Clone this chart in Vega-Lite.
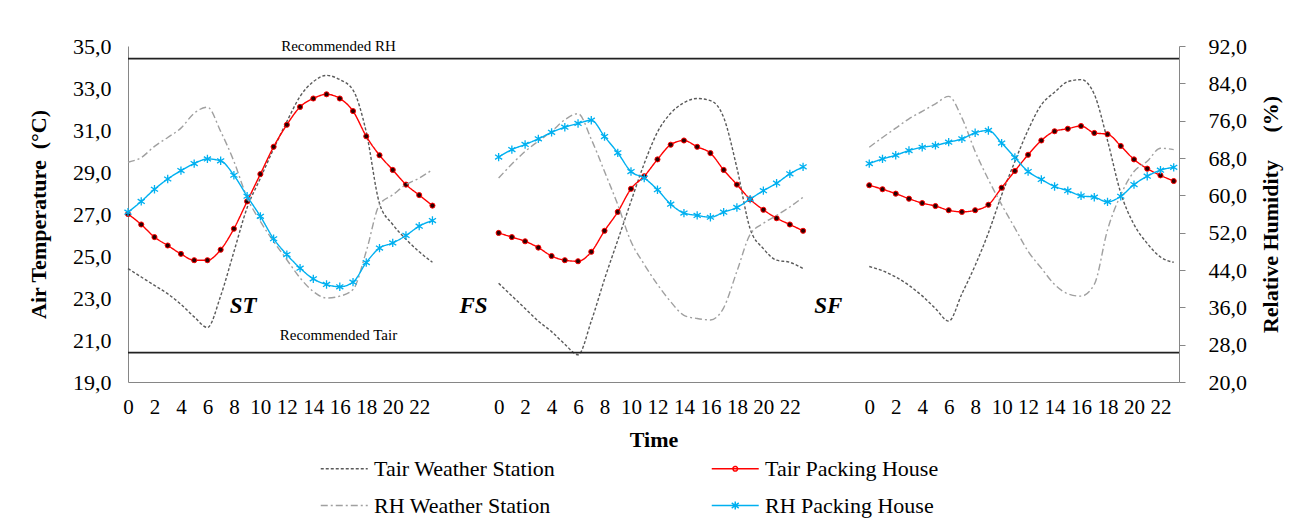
{
  "$schema": "https://vega.github.io/schema/vega-lite/v6.json",
  "width": 1051,
  "height": 336,
  "autosize": "none",
  "padding": {"left": 128, "top": 46, "right": 117, "bottom": 144},
  "config": {
    "font": "Liberation Serif",
    "view": {"stroke": null},
    "style": {"guide-label": {"font": "Liberation Serif"}, "guide-title": {"font": "Liberation Serif"}},
    "axis": {"labelColor": "black", "titleColor": "black", "labelFont": "Liberation Serif", "titleFont": "Liberation Serif"},
    "legend": {"labelFont": "Liberation Serif", "labelFontSize": 22, "labelColor": "black", "labelLimit": 400}
  },
  "data": {
    "values": [
      {"panel": "ST", "hour": 0, "Tair Weather Station": 24.4, "Tair Packing House": 27.0, "RH Weather Station": 67.1, "RH Packing House": 56.4},
      {"panel": "ST", "hour": 1, "Tair Weather Station": 24.0, "Tair Packing House": 26.5, "RH Weather Station": 68.1, "RH Packing House": 58.7},
      {"panel": "ST", "hour": 2, "Tair Weather Station": 23.6, "Tair Packing House": 25.9, "RH Weather Station": 70.5, "RH Packing House": 61.3},
      {"panel": "ST", "hour": 3, "Tair Weather Station": 23.2, "Tair Packing House": 25.5, "RH Weather Station": 72.4, "RH Packing House": 63.5},
      {"panel": "ST", "hour": 4, "Tair Weather Station": 22.7, "Tair Packing House": 25.1, "RH Weather Station": 74.4, "RH Packing House": 65.3},
      {"panel": "ST", "hour": 5, "Tair Weather Station": 22.1, "Tair Packing House": 24.8, "RH Weather Station": 77.6, "RH Packing House": 66.8},
      {"panel": "ST", "hour": 6, "Tair Weather Station": 21.6, "Tair Packing House": 24.8, "RH Weather Station": 78.9, "RH Packing House": 67.8},
      {"panel": "ST", "hour": 7, "Tair Weather Station": 23.1, "Tair Packing House": 25.3, "RH Weather Station": 73.7, "RH Packing House": 67.4},
      {"panel": "ST", "hour": 8, "Tair Weather Station": 25.2, "Tair Packing House": 26.3, "RH Weather Station": 67.3, "RH Packing House": 64.3},
      {"panel": "ST", "hour": 9, "Tair Weather Station": 27.3, "Tair Packing House": 27.6, "RH Weather Station": 59.5, "RH Packing House": 59.8},
      {"panel": "ST", "hour": 10, "Tair Weather Station": 28.7, "Tair Packing House": 28.9, "RH Weather Station": 54.4, "RH Packing House": 55.5},
      {"panel": "ST", "hour": 11, "Tair Weather Station": 30.1, "Tair Packing House": 30.2, "RH Weather Station": 50.1, "RH Packing House": 50.7},
      {"panel": "ST", "hour": 12, "Tair Weather Station": 31.4, "Tair Packing House": 31.25, "RH Weather Station": 46.2, "RH Packing House": 47.3},
      {"panel": "ST", "hour": 13, "Tair Weather Station": 32.6, "Tair Packing House": 32.1, "RH Weather Station": 42.3, "RH Packing House": 44.4},
      {"panel": "ST", "hour": 14, "Tair Weather Station": 33.3, "Tair Packing House": 32.5, "RH Weather Station": 39.4, "RH Packing House": 42.1},
      {"panel": "ST", "hour": 15, "Tair Weather Station": 33.6, "Tair Packing House": 32.7, "RH Weather Station": 38.0, "RH Packing House": 40.9},
      {"panel": "ST", "hour": 16, "Tair Weather Station": 33.4, "Tair Packing House": 32.5, "RH Weather Station": 38.4, "RH Packing House": 40.4},
      {"panel": "ST", "hour": 17, "Tair Weather Station": 32.9, "Tair Packing House": 31.9, "RH Weather Station": 39.8, "RH Packing House": 41.4},
      {"panel": "ST", "hour": 18, "Tair Weather Station": 30.9, "Tair Packing House": 30.7, "RH Weather Station": 48.0, "RH Packing House": 45.6},
      {"panel": "ST", "hour": 19, "Tair Weather Station": 27.5, "Tair Packing House": 29.8, "RH Weather Station": 58.0, "RH Packing House": 48.7},
      {"panel": "ST", "hour": 20, "Tair Weather Station": 26.5, "Tair Packing House": 29.1, "RH Weather Station": 60.1, "RH Packing House": 49.8},
      {"panel": "ST", "hour": 21, "Tair Weather Station": 25.8, "Tair Packing House": 28.4, "RH Weather Station": 62.3, "RH Packing House": 51.4},
      {"panel": "ST", "hour": 22, "Tair Weather Station": 25.2, "Tair Packing House": 27.9, "RH Weather Station": 63.7, "RH Packing House": 53.4},
      {"panel": "ST", "hour": 23, "Tair Weather Station": 24.7, "Tair Packing House": 27.4, "RH Weather Station": 65.5, "RH Packing House": 54.6},
      {"panel": "FS", "hour": 0, "Tair Weather Station": 23.7, "Tair Packing House": 26.1, "RH Weather Station": 63.7, "RH Packing House": 68.2},
      {"panel": "FS", "hour": 1, "Tair Weather Station": 23.1, "Tair Packing House": 25.9, "RH Weather Station": 66.7, "RH Packing House": 69.8},
      {"panel": "FS", "hour": 2, "Tair Weather Station": 22.5, "Tair Packing House": 25.7, "RH Weather Station": 69.4, "RH Packing House": 70.9},
      {"panel": "FS", "hour": 3, "Tair Weather Station": 21.9, "Tair Packing House": 25.4, "RH Weather Station": 71.6, "RH Packing House": 72.1},
      {"panel": "FS", "hour": 4, "Tair Weather Station": 21.4, "Tair Packing House": 25.0, "RH Weather Station": 73.7, "RH Packing House": 73.5},
      {"panel": "FS", "hour": 5, "Tair Weather Station": 20.8, "Tair Packing House": 24.8, "RH Weather Station": 76.2, "RH Packing House": 74.6},
      {"panel": "FS", "hour": 6, "Tair Weather Station": 20.3, "Tair Packing House": 24.75, "RH Weather Station": 77.5, "RH Packing House": 75.4},
      {"panel": "FS", "hour": 7, "Tair Weather Station": 21.9, "Tair Packing House": 25.2, "RH Weather Station": 72.0, "RH Packing House": 76.1},
      {"panel": "FS", "hour": 8, "Tair Weather Station": 23.9, "Tair Packing House": 26.2, "RH Weather Station": 65.1, "RH Packing House": 72.6},
      {"panel": "FS", "hour": 9, "Tair Weather Station": 25.75, "Tair Packing House": 27.1, "RH Weather Station": 58.0, "RH Packing House": 69.1},
      {"panel": "FS", "hour": 10, "Tair Weather Station": 27.6, "Tair Packing House": 28.2, "RH Weather Station": 50.1, "RH Packing House": 65.1},
      {"panel": "FS", "hour": 11, "Tair Weather Station": 29.4, "Tair Packing House": 28.8, "RH Weather Station": 45.2, "RH Packing House": 63.7},
      {"panel": "FS", "hour": 12, "Tair Weather Station": 30.9, "Tair Packing House": 29.6, "RH Weather Station": 40.9, "RH Packing House": 61.2},
      {"panel": "FS", "hour": 13, "Tair Weather Station": 31.8, "Tair Packing House": 30.3, "RH Weather Station": 37.2, "RH Packing House": 58.1},
      {"panel": "FS", "hour": 14, "Tair Weather Station": 32.3, "Tair Packing House": 30.5, "RH Weather Station": 34.3, "RH Packing House": 56.2},
      {"panel": "FS", "hour": 15, "Tair Weather Station": 32.5, "Tair Packing House": 30.2, "RH Weather Station": 33.6, "RH Packing House": 55.7},
      {"panel": "FS", "hour": 16, "Tair Weather Station": 32.4, "Tair Packing House": 29.9, "RH Weather Station": 33.3, "RH Packing House": 55.3},
      {"panel": "FS", "hour": 17, "Tair Weather Station": 31.6, "Tair Packing House": 29.1, "RH Weather Station": 35.9, "RH Packing House": 56.4},
      {"panel": "FS", "hour": 18, "Tair Weather Station": 29.2, "Tair Packing House": 28.4, "RH Weather Station": 43.7, "RH Packing House": 57.4},
      {"panel": "FS", "hour": 19, "Tair Weather Station": 26.3, "Tair Packing House": 27.7, "RH Weather Station": 51.6, "RH Packing House": 59.2},
      {"panel": "FS", "hour": 20, "Tair Weather Station": 25.35, "Tair Packing House": 27.2, "RH Weather Station": 54.0, "RH Packing House": 61.0},
      {"panel": "FS", "hour": 21, "Tair Weather Station": 24.8, "Tair Packing House": 26.8, "RH Weather Station": 55.7, "RH Packing House": 62.6},
      {"panel": "FS", "hour": 22, "Tair Weather Station": 24.7, "Tair Packing House": 26.5, "RH Weather Station": 57.5, "RH Packing House": 64.6},
      {"panel": "FS", "hour": 23, "Tair Weather Station": 24.4, "Tair Packing House": 26.2, "RH Weather Station": 59.6, "RH Packing House": 66.1},
      {"panel": "SF", "hour": 0, "Tair Weather Station": 24.5, "Tair Packing House": 28.37, "RH Weather Station": 70.3, "RH Packing House": 66.8},
      {"panel": "SF", "hour": 1, "Tair Weather Station": 24.3, "Tair Packing House": 28.18, "RH Weather Station": 72.4, "RH Packing House": 67.8},
      {"panel": "SF", "hour": 2, "Tair Weather Station": 24.0, "Tair Packing House": 27.97, "RH Weather Station": 74.4, "RH Packing House": 68.6},
      {"panel": "SF", "hour": 3, "Tair Weather Station": 23.6, "Tair Packing House": 27.73, "RH Weather Station": 76.4, "RH Packing House": 69.6},
      {"panel": "SF", "hour": 4, "Tair Weather Station": 23.1, "Tair Packing House": 27.52, "RH Weather Station": 78.0, "RH Packing House": 70.3},
      {"panel": "SF", "hour": 5, "Tair Weather Station": 22.5, "Tair Packing House": 27.38, "RH Weather Station": 79.6, "RH Packing House": 70.7},
      {"panel": "SF", "hour": 6, "Tair Weather Station": 21.9, "Tair Packing House": 27.18, "RH Weather Station": 81.2, "RH Packing House": 71.4},
      {"panel": "SF", "hour": 7, "Tair Weather Station": 23.2, "Tair Packing House": 27.1, "RH Weather Station": 76.6, "RH Packing House": 72.1},
      {"panel": "SF", "hour": 8, "Tair Weather Station": 24.55, "Tair Packing House": 27.18, "RH Weather Station": 69.4, "RH Packing House": 73.4},
      {"panel": "SF", "hour": 9, "Tair Weather Station": 26.1, "Tair Packing House": 27.44, "RH Weather Station": 63.4, "RH Packing House": 73.9},
      {"panel": "SF", "hour": 10, "Tair Weather Station": 27.9, "Tair Packing House": 28.25, "RH Weather Station": 58.0, "RH Packing House": 71.2},
      {"panel": "SF", "hour": 11, "Tair Weather Station": 29.5, "Tair Packing House": 29.05, "RH Weather Station": 53.0, "RH Packing House": 68.1},
      {"panel": "SF", "hour": 12, "Tair Weather Station": 31.0, "Tair Packing House": 29.82, "RH Weather Station": 48.0, "RH Packing House": 65.1},
      {"panel": "SF", "hour": 13, "Tair Weather Station": 32.2, "Tair Packing House": 30.5, "RH Weather Station": 44.4, "RH Packing House": 63.4},
      {"panel": "SF", "hour": 14, "Tair Weather Station": 32.8, "Tair Packing House": 30.94, "RH Weather Station": 40.9, "RH Packing House": 61.9},
      {"panel": "SF", "hour": 15, "Tair Weather Station": 33.3, "Tair Packing House": 31.06, "RH Weather Station": 38.9, "RH Packing House": 61.0},
      {"panel": "SF", "hour": 16, "Tair Weather Station": 33.4, "Tair Packing House": 31.19, "RH Weather Station": 38.4, "RH Packing House": 59.9},
      {"panel": "SF", "hour": 17, "Tair Weather Station": 32.7, "Tair Packing House": 30.86, "RH Weather Station": 40.9, "RH Packing House": 59.6},
      {"panel": "SF", "hour": 18, "Tair Weather Station": 30.5, "Tair Packing House": 30.8, "RH Weather Station": 52.6, "RH Packing House": 58.6},
      {"panel": "SF", "hour": 19, "Tair Weather Station": 28.0, "Tair Packing House": 30.24, "RH Weather Station": 60.1, "RH Packing House": 59.8},
      {"panel": "SF", "hour": 20, "Tair Weather Station": 26.5, "Tair Packing House": 29.6, "RH Weather Station": 65.1, "RH Packing House": 62.3},
      {"panel": "SF", "hour": 21, "Tair Weather Station": 25.6, "Tair Packing House": 29.16, "RH Weather Station": 67.3, "RH Packing House": 64.1},
      {"panel": "SF", "hour": 22, "Tair Weather Station": 24.95, "Tair Packing House": 28.84, "RH Weather Station": 70.1, "RH Packing House": 65.4},
      {"panel": "SF", "hour": 23, "Tair Weather Station": 24.7, "Tair Packing House": 28.57, "RH Weather Station": 69.8, "RH Packing House": 66.0}
    ]
  },
  "layer": [
    {
      "layer": [
        {
          "transform": [
            {"calculate": "datum.hour + indexof(['ST','FS','SF'], datum.panel) * 28", "as": "t"},
            {"fold": ["Tair Weather Station", "Tair Packing House"], "as": ["series", "value"]}
          ],
          "mark": {"type": "line", "interpolate": "monotone", "strokeWidth": 1.4},
          "encoding": {
            "x": {"field": "t", "type": "quantitative", "scale": {"domain": [0, 79.4], "nice": false, "zero": false},
              "axis": {"title": "Time", "values": [0,2,4,6,8,10,12,14,16,18,20,22,28,30,32,34,36,38,40,42,44,46,48,50,56,58,60,62,64,66,68,70,72,74,76,78], "labelExpr": "datum.value % 28", "ticks": false, "grid": false, "domainColor": "#868686", "labelFontSize": 21, "labelPadding": 14, "labelOverlap": false, "labelFlush": false, "titleFontSize": 22, "titleFontWeight": "bold", "titlePadding": 12}},
            "y": {"field": "value", "type": "quantitative", "scale": {"domain": [19, 35], "nice": false, "zero": false},
              "axis": {"orient": "left", "title": "Air Temperature\u00a0 (°C)", "values": [19,21,23,25,27,29,31,33,35], "labelExpr": "replace(format(datum.value, '.1f'), '.', ',')", "ticks": false, "grid": false, "domainColor": "#868686", "labelFontSize": 22, "labelPadding": 17, "titleFontSize": 22, "titleFontWeight": "bold", "titlePadding": 22}},
            "color": {"field": "series", "type": "nominal",
              "scale": {"domain": ["Tair Weather Station", "Tair Packing House", "RH Weather Station", "RH Packing House"], "range": ["#5a5a5a", "#ff0000", "#a0a0a0", "#00b0f0"]},
              "legend": {"title": null, "values": ["Tair Weather Station", "RH Weather Station", "Tair Packing House", "RH Packing House"], "orient": "none", "legendX": 192, "legendY": 410, "columns": 2, "symbolType": "stroke", "symbolSize": 552, "symbolStrokeWidth": 1.5, "labelFont": "Liberation Serif", "labelFontSize": 22, "labelLimit": 400, "labelColor": "black", "labelOffset": 29, "rowPadding": 13, "columnPadding": 152,
                "encode": {"labels": {"update": {"font": {"value": "Liberation Serif"}}}, "symbols": {"update": {"shape": {"signal": "datum.value === 'Tair Packing House' ? 'M-1,0L3,0M1.2,0A0.2,0.2 0 1,0 0.8,0A0.2,0.2 0 1,0 1.2,0' : datum.value === 'RH Packing House' ? 'M-1,0L3,0M1,-0.35L1,0.35M0.7,-0.22L1.3,0.22M0.7,0.22L1.3,-0.22' : 'M-1,0L3,0'"}}}}}},
            "strokeDash": {"field": "series", "type": "nominal",
              "scale": {"domain": ["Tair Weather Station", "Tair Packing House", "RH Weather Station", "RH Packing House"], "range": [[3, 2], [1, 0], [7, 3, 2, 3], [1, 0]]},
              "legend": {"title": null, "values": ["Tair Weather Station", "RH Weather Station", "Tair Packing House", "RH Packing House"], "orient": "none", "legendX": 192, "legendY": 410, "columns": 2, "symbolType": "stroke", "symbolSize": 552, "symbolStrokeWidth": 1.5, "labelFont": "Liberation Serif", "labelFontSize": 22, "labelLimit": 400, "labelColor": "black", "labelOffset": 29, "rowPadding": 13, "columnPadding": 152,
                "encode": {"labels": {"update": {"font": {"value": "Liberation Serif"}}}, "symbols": {"update": {"shape": {"signal": "datum.value === 'Tair Packing House' ? 'M-1,0L3,0M1.2,0A0.2,0.2 0 1,0 0.8,0A0.2,0.2 0 1,0 1.2,0' : datum.value === 'RH Packing House' ? 'M-1,0L3,0M1,-0.35L1,0.35M0.7,-0.22L1.3,0.22M0.7,0.22L1.3,-0.22' : 'M-1,0L3,0'"}}}}}},
            "detail": {"field": "panel"}
          }
        },
        {
          "transform": [
            {"calculate": "datum.hour + indexof(['ST','FS','SF'], datum.panel) * 28", "as": "t"}
          ],
          "mark": {"type": "point", "filled": true, "fill": "#2a0000", "stroke": "#ff0000", "strokeWidth": 1, "size": 26, "opacity": 1},
          "encoding": {
            "x": {"field": "t", "type": "quantitative", "scale": {"domain": [0, 79.4], "nice": false, "zero": false},
              "axis": {"title": "Time", "values": [0,2,4,6,8,10,12,14,16,18,20,22,28,30,32,34,36,38,40,42,44,46,48,50,56,58,60,62,64,66,68,70,72,74,76,78], "labelExpr": "datum.value % 28", "ticks": false, "grid": false, "domainColor": "#868686", "labelFontSize": 21, "labelPadding": 14, "labelOverlap": false, "labelFlush": false, "titleFontSize": 22, "titleFontWeight": "bold", "titlePadding": 12}},
            "y": {"field": "Tair Packing House", "type": "quantitative", "scale": {"domain": [19, 35], "nice": false, "zero": false},
              "axis": {"orient": "left", "title": "Air Temperature\u00a0 (°C)", "values": [19,21,23,25,27,29,31,33,35], "labelExpr": "replace(format(datum.value, '.1f'), '.', ',')", "ticks": false, "grid": false, "domainColor": "#868686", "labelFontSize": 22, "labelPadding": 17, "titleFontSize": 22, "titleFontWeight": "bold", "titlePadding": 22}}
          }
        },
        {
          "data": {"values": [{"label": "Recommended Tair", "v": 20.4}]},
          "mark": {"type": "rule", "color": "#222222", "strokeWidth": 1.8},
          "encoding": {
            "y": {"field": "v", "type": "quantitative", "scale": {"domain": [19, 35], "nice": false, "zero": false},
              "axis": {"orient": "left", "title": "Air Temperature\u00a0 (°C)", "values": [19,21,23,25,27,29,31,33,35], "labelExpr": "replace(format(datum.value, '.1f'), '.', ',')", "ticks": false, "grid": false, "domainColor": "#868686", "labelFontSize": 22, "labelPadding": 17, "titleFontSize": 22, "titleFontWeight": "bold", "titlePadding": 22}}
          }
        },
        {
          "data": {"values": [
            {"label": "Recommended RH", "t": 15.9, "v": 35.0},
            {"label": "Recommended Tair", "t": 15.9, "v": 21.24}
          ]},
          "mark": {"type": "text", "font": "Liberation Serif", "fontSize": 15, "color": "black", "baseline": "middle", "align": "center"},
          "encoding": {
            "x": {"field": "t", "type": "quantitative", "scale": {"domain": [0, 79.4], "nice": false, "zero": false},
              "axis": {"title": "Time", "values": [0,2,4,6,8,10,12,14,16,18,20,22,28,30,32,34,36,38,40,42,44,46,48,50,56,58,60,62,64,66,68,70,72,74,76,78], "labelExpr": "datum.value % 28", "ticks": false, "grid": false, "domainColor": "#868686", "labelFontSize": 21, "labelPadding": 14, "labelOverlap": false, "labelFlush": false, "titleFontSize": 22, "titleFontWeight": "bold", "titlePadding": 12}},
            "y": {"field": "v", "type": "quantitative", "scale": {"domain": [19, 35], "nice": false, "zero": false},
              "axis": {"orient": "left", "title": "Air Temperature\u00a0 (°C)", "values": [19,21,23,25,27,29,31,33,35], "labelExpr": "replace(format(datum.value, '.1f'), '.', ',')", "ticks": false, "grid": false, "domainColor": "#868686", "labelFontSize": 22, "labelPadding": 17, "titleFontSize": 22, "titleFontWeight": "bold", "titlePadding": 22}},
            "text": {"field": "label"}
          }
        },
        {
          "data": {"values": [
            {"label": "ST", "t": 8.7, "v": 22.62},
            {"label": "FS", "t": 26.1, "v": 22.62},
            {"label": "SF", "t": 52.9, "v": 22.62}
          ]},
          "mark": {"type": "text", "font": "Liberation Serif", "fontSize": 23, "fontWeight": "bold", "fontStyle": "italic", "color": "black", "baseline": "middle", "align": "center"},
          "encoding": {
            "x": {"field": "t", "type": "quantitative", "scale": {"domain": [0, 79.4], "nice": false, "zero": false},
              "axis": {"title": "Time", "values": [0,2,4,6,8,10,12,14,16,18,20,22,28,30,32,34,36,38,40,42,44,46,48,50,56,58,60,62,64,66,68,70,72,74,76,78], "labelExpr": "datum.value % 28", "ticks": false, "grid": false, "domainColor": "#868686", "labelFontSize": 21, "labelPadding": 14, "labelOverlap": false, "labelFlush": false, "titleFontSize": 22, "titleFontWeight": "bold", "titlePadding": 12}},
            "y": {"field": "v", "type": "quantitative", "scale": {"domain": [19, 35], "nice": false, "zero": false},
              "axis": {"orient": "left", "title": "Air Temperature\u00a0 (°C)", "values": [19,21,23,25,27,29,31,33,35], "labelExpr": "replace(format(datum.value, '.1f'), '.', ',')", "ticks": false, "grid": false, "domainColor": "#868686", "labelFontSize": 22, "labelPadding": 17, "titleFontSize": 22, "titleFontWeight": "bold", "titlePadding": 22}},
            "text": {"field": "label"}
          }
        }
      ]
    },
    {
      "layer": [
        {
          "transform": [
            {"calculate": "datum.hour + indexof(['ST','FS','SF'], datum.panel) * 28", "as": "t"},
            {"fold": ["RH Weather Station", "RH Packing House"], "as": ["series", "value"]}
          ],
          "mark": {"type": "line", "interpolate": "monotone", "strokeWidth": 1.4},
          "encoding": {
            "x": {"field": "t", "type": "quantitative", "scale": {"domain": [0, 79.4], "nice": false, "zero": false},
              "axis": {"title": "Time", "values": [0,2,4,6,8,10,12,14,16,18,20,22,28,30,32,34,36,38,40,42,44,46,48,50,56,58,60,62,64,66,68,70,72,74,76,78], "labelExpr": "datum.value % 28", "ticks": false, "grid": false, "domainColor": "#868686", "labelFontSize": 21, "labelPadding": 14, "labelOverlap": false, "labelFlush": false, "titleFontSize": 22, "titleFontWeight": "bold", "titlePadding": 12}},
            "y": {"field": "value", "type": "quantitative", "scale": {"domain": [20, 92], "nice": false, "zero": false},
              "axis": {"orient": "right", "title": "Relative Humidity\u00a0\u00a0\u00a0\u00a0 (%)", "values": [20,28,36,44,52,60,68,76,84,92], "labelExpr": "replace(format(datum.value, '.1f'), '.', ',')", "ticks": true, "tickSize": 6, "tickColor": "#868686", "grid": false, "domainColor": "#868686", "labelFontSize": 22, "labelPadding": 23, "titleFontSize": 22, "titleFontWeight": "bold", "titleAngle": 270, "titlePadding": 36}},
            "color": {"field": "series", "type": "nominal",
              "scale": {"domain": ["Tair Weather Station", "Tair Packing House", "RH Weather Station", "RH Packing House"], "range": ["#5a5a5a", "#ff0000", "#a0a0a0", "#00b0f0"]},
              "legend": {"title": null, "values": ["Tair Weather Station", "RH Weather Station", "Tair Packing House", "RH Packing House"], "orient": "none", "legendX": 192, "legendY": 410, "columns": 2, "symbolType": "stroke", "symbolSize": 552, "symbolStrokeWidth": 1.5, "labelFont": "Liberation Serif", "labelFontSize": 22, "labelLimit": 400, "labelColor": "black", "labelOffset": 29, "rowPadding": 13, "columnPadding": 152,
                "encode": {"labels": {"update": {"font": {"value": "Liberation Serif"}}}, "symbols": {"update": {"shape": {"signal": "datum.value === 'Tair Packing House' ? 'M-1,0L3,0M1.2,0A0.2,0.2 0 1,0 0.8,0A0.2,0.2 0 1,0 1.2,0' : datum.value === 'RH Packing House' ? 'M-1,0L3,0M1,-0.35L1,0.35M0.7,-0.22L1.3,0.22M0.7,0.22L1.3,-0.22' : 'M-1,0L3,0'"}}}}}},
            "strokeDash": {"field": "series", "type": "nominal",
              "scale": {"domain": ["Tair Weather Station", "Tair Packing House", "RH Weather Station", "RH Packing House"], "range": [[3, 2], [1, 0], [7, 3, 2, 3], [1, 0]]},
              "legend": {"title": null, "values": ["Tair Weather Station", "RH Weather Station", "Tair Packing House", "RH Packing House"], "orient": "none", "legendX": 192, "legendY": 410, "columns": 2, "symbolType": "stroke", "symbolSize": 552, "symbolStrokeWidth": 1.5, "labelFont": "Liberation Serif", "labelFontSize": 22, "labelLimit": 400, "labelColor": "black", "labelOffset": 29, "rowPadding": 13, "columnPadding": 152,
                "encode": {"labels": {"update": {"font": {"value": "Liberation Serif"}}}, "symbols": {"update": {"shape": {"signal": "datum.value === 'Tair Packing House' ? 'M-1,0L3,0M1.2,0A0.2,0.2 0 1,0 0.8,0A0.2,0.2 0 1,0 1.2,0' : datum.value === 'RH Packing House' ? 'M-1,0L3,0M1,-0.35L1,0.35M0.7,-0.22L1.3,0.22M0.7,0.22L1.3,-0.22' : 'M-1,0L3,0'"}}}}}},
            "detail": {"field": "panel"}
          }
        },
        {
          "transform": [
            {"calculate": "datum.hour + indexof(['ST','FS','SF'], datum.panel) * 28", "as": "t"}
          ],
          "mark": {"type": "point", "filled": false, "shape": "M0,-1L0,1M-0.85,-0.55L0.85,0.55M-0.85,0.55L0.85,-0.55", "stroke": "#00b0f0", "strokeWidth": 1.3, "size": 70, "opacity": 1},
          "encoding": {
            "x": {"field": "t", "type": "quantitative", "scale": {"domain": [0, 79.4], "nice": false, "zero": false},
              "axis": {"title": "Time", "values": [0,2,4,6,8,10,12,14,16,18,20,22,28,30,32,34,36,38,40,42,44,46,48,50,56,58,60,62,64,66,68,70,72,74,76,78], "labelExpr": "datum.value % 28", "ticks": false, "grid": false, "domainColor": "#868686", "labelFontSize": 21, "labelPadding": 14, "labelOverlap": false, "labelFlush": false, "titleFontSize": 22, "titleFontWeight": "bold", "titlePadding": 12}},
            "y": {"field": "RH Packing House", "type": "quantitative", "scale": {"domain": [20, 92], "nice": false, "zero": false},
              "axis": {"orient": "right", "title": "Relative Humidity\u00a0\u00a0\u00a0\u00a0 (%)", "values": [20,28,36,44,52,60,68,76,84,92], "labelExpr": "replace(format(datum.value, '.1f'), '.', ',')", "ticks": true, "tickSize": 6, "tickColor": "#868686", "grid": false, "domainColor": "#868686", "labelFontSize": 22, "labelPadding": 23, "titleFontSize": 22, "titleFontWeight": "bold", "titleAngle": 270, "titlePadding": 36}}
          }
        },
        {
          "data": {"values": [{"label": "Recommended RH", "v": 89.3}]},
          "mark": {"type": "rule", "color": "#222222", "strokeWidth": 1.8},
          "encoding": {
            "y": {"field": "v", "type": "quantitative", "scale": {"domain": [20, 92], "nice": false, "zero": false},
              "axis": {"orient": "right", "title": "Relative Humidity\u00a0\u00a0\u00a0\u00a0 (%)", "values": [20,28,36,44,52,60,68,76,84,92], "labelExpr": "replace(format(datum.value, '.1f'), '.', ',')", "ticks": true, "tickSize": 6, "tickColor": "#868686", "grid": false, "domainColor": "#868686", "labelFontSize": 22, "labelPadding": 23, "titleFontSize": 22, "titleFontWeight": "bold", "titleAngle": 270, "titlePadding": 36}}
          }
        }
      ]
    }
  ],
  "resolve": {"scale": {"y": "independent"}}
}
